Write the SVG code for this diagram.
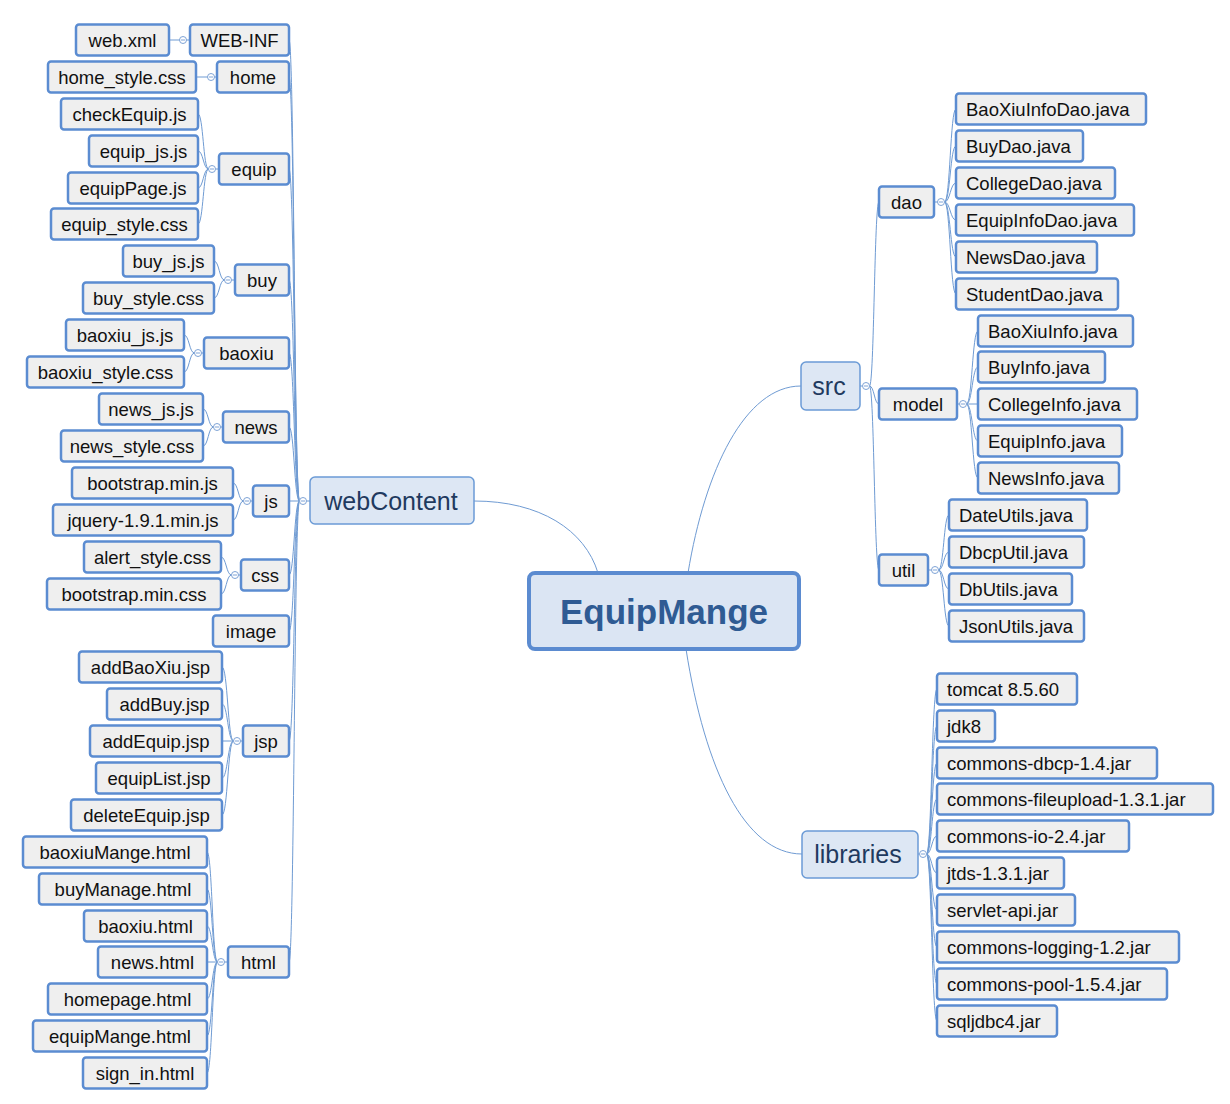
<svg xmlns="http://www.w3.org/2000/svg" width="1230" height="1104" viewBox="0 0 1230 1104">
<style>
.n rect{fill:#efefef;stroke:#5b8cd1;stroke-width:2.5}
.n text{font-family:"Liberation Sans",Arial,sans-serif;font-size:18.5px;fill:#111;text-anchor:middle}
.r text{text-anchor:start}
.l1 rect{fill:#dde7f4;stroke:#6b9bd6;stroke-width:1.5}
.l1 text{font-family:"Liberation Sans",Arial,sans-serif;font-size:25px;fill:#1f3a5f;text-anchor:middle}
.root rect{fill:#dbe5f3;stroke:#5b8bd0;stroke-width:4}
.root text{font-family:"Liberation Sans",Arial,sans-serif;font-size:35px;font-weight:bold;fill:#2f5b93;text-anchor:middle}
#connectors path{fill:none;stroke:#6f9bd3;stroke-width:1}
.tog circle{fill:#fff;stroke:#7ea3d6;stroke-width:1}
.tog path{stroke:#7ea3d6;stroke-width:1}
</style>
<rect width="1230" height="1104" fill="#fff"/>
<g id="connectors">
<path d="M598 573 C585 530 540 501 474 501"/>
<path d="M688 573 C705 470 745 386 801 386"/>
<path d="M686 649 C705 770 745 854 802 854"/>
<path d="M310 501 L306.5 501"/>
<path d="M299.5 501 C294.25 501 294.25 40 289 40"/>
<path d="M299.5 501 C294.25 501 294.25 77 289 77"/>
<path d="M299.5 501 C294.25 501 294.25 169 289 169"/>
<path d="M299.5 501 C294.25 501 294.25 280 289 280"/>
<path d="M299.5 501 C294.25 501 294.25 353 289 353"/>
<path d="M299.5 501 C294.25 501 294.25 427 289 427"/>
<path d="M299.5 501 L289 501"/>
<path d="M299.5 501 C294.25 501 294.25 575 289 575"/>
<path d="M299.5 501 C294.25 501 294.25 631 289 631"/>
<path d="M299.5 501 C294.25 501 294.25 741 289 741"/>
<path d="M299.5 501 C294.25 501 294.25 962 289 962"/>
<path d="M190 40 L169 40"/>
<path d="M217 77 L196 77"/>
<path d="M219 169 L215.5 169"/>
<path d="M208.5 169 C203.25 169 203.25 114 198 114"/>
<path d="M208.5 169 C203.25 169 203.25 151 198 151"/>
<path d="M208.5 169 C203.25 169 203.25 188 198 188"/>
<path d="M208.5 169 C203.25 169 203.25 224 198 224"/>
<path d="M235 280 L231.5 280"/>
<path d="M224.5 280 C219.25 280 219.25 261 214 261"/>
<path d="M224.5 280 C219.25 280 219.25 298 214 298"/>
<path d="M204 353 L201.5 353"/>
<path d="M194.5 353 C189.25 353 189.25 335 184 335"/>
<path d="M194.5 353 C189.25 353 189.25 372 184 372"/>
<path d="M223 427 L220.5 427"/>
<path d="M213.5 427 C208.25 427 208.25 409 203 409"/>
<path d="M213.5 427 C208.25 427 208.25 446 203 446"/>
<path d="M253 501 L250.5 501"/>
<path d="M243.5 501 C238.25 501 238.25 483 233 483"/>
<path d="M243.5 501 C238.25 501 238.25 520 233 520"/>
<path d="M241 575 L238.5 575"/>
<path d="M231.5 575 C226.25 575 226.25 557 221 557"/>
<path d="M231.5 575 C226.25 575 226.25 594 221 594"/>
<path d="M243 741 L240.5 741"/>
<path d="M233.5 741 C227.75 741 227.75 667 222 667"/>
<path d="M233.5 741 C227.75 741 227.75 704 222 704"/>
<path d="M233.5 741 L222 741"/>
<path d="M233.5 741 C227.75 741 227.75 778 222 778"/>
<path d="M233.5 741 C227.75 741 227.75 815 222 815"/>
<path d="M228 962 L224.5 962"/>
<path d="M217.5 962 C212.25 962 212.25 852 207 852"/>
<path d="M217.5 962 C212.25 962 212.25 889 207 889"/>
<path d="M217.5 962 C212.25 962 212.25 926 207 926"/>
<path d="M217.5 962 L207 962"/>
<path d="M217.5 962 C212.25 962 212.25 999 207 999"/>
<path d="M217.5 962 C212.25 962 212.25 1036 207 1036"/>
<path d="M217.5 962 C212.25 962 212.25 1073 207 1073"/>
<path d="M860 386 L862.5 386"/>
<path d="M869.5 386 C874.25 386 874.25 202 879 202"/>
<path d="M869.5 386 C874.25 386 874.25 404 879 404"/>
<path d="M869.5 386 C874.25 386 874.25 570 879 570"/>
<path d="M934 202 L937.5 202"/>
<path d="M944.5 202 C950.25 202 950.25 109 956 109"/>
<path d="M944.5 202 C950.25 202 950.25 146 956 146"/>
<path d="M944.5 202 C950.25 202 950.25 183 956 183"/>
<path d="M944.5 202 C950.25 202 950.25 220 956 220"/>
<path d="M944.5 202 C950.25 202 950.25 257 956 257"/>
<path d="M944.5 202 C950.25 202 950.25 294 956 294"/>
<path d="M957 404 L959.5 404"/>
<path d="M966.5 404 C972.25 404 972.25 331 978 331"/>
<path d="M966.5 404 C972.25 404 972.25 367 978 367"/>
<path d="M966.5 404 L978 404"/>
<path d="M966.5 404 C972.25 404 972.25 441 978 441"/>
<path d="M966.5 404 C972.25 404 972.25 478 978 478"/>
<path d="M928 570 L931.5 570"/>
<path d="M938.5 570 C943.75 570 943.75 515 949 515"/>
<path d="M938.5 570 C943.75 570 943.75 552 949 552"/>
<path d="M938.5 570 C943.75 570 943.75 589 949 589"/>
<path d="M938.5 570 C943.75 570 943.75 626 949 626"/>
<path d="M918 854 L919.5 854"/>
<path d="M926.5 854 C931.75 854 931.75 689 937 689"/>
<path d="M926.5 854 C931.75 854 931.75 726 937 726"/>
<path d="M926.5 854 C931.75 854 931.75 763 937 763"/>
<path d="M926.5 854 C931.75 854 931.75 799 937 799"/>
<path d="M926.5 854 C931.75 854 931.75 836 937 836"/>
<path d="M926.5 854 C931.75 854 931.75 873 937 873"/>
<path d="M926.5 854 C931.75 854 931.75 910 937 910"/>
<path d="M926.5 854 C931.75 854 931.75 947 937 947"/>
<path d="M926.5 854 C931.75 854 931.75 984 937 984"/>
<path d="M926.5 854 C931.75 854 931.75 1021 937 1021"/>
</g>

<g id="root" class="root"><rect x="529" y="573" width="270" height="76" rx="6"/><text x="664" y="624">EquipMange</text></g>

<g id="webContent" class="l1"><rect x="310" y="477" width="164" height="47" rx="5"/><text x="391" y="510">webContent</text></g>
<g id="src" class="l1"><rect x="801" y="362" width="59" height="48" rx="5"/><text x="829" y="395">src</text></g>
<g id="libraries" class="l1"><rect x="802" y="831" width="116" height="47" rx="5"/><text x="858" y="863">libraries</text></g>

<g id="WEB-INF" class="n"><rect x="190" y="24.5" width="99" height="31" rx="3"/><text x="239.5" y="46.5">WEB-INF</text></g>
<g id="web.xml" class="n"><rect x="76" y="24.5" width="93" height="31" rx="3"/><text x="122.5" y="46.5">web.xml</text></g>
<g id="home" class="n"><rect x="217" y="61.5" width="72" height="31" rx="3"/><text x="253" y="83.5">home</text></g>
<g id="home_style.css" class="n"><rect x="48" y="61.5" width="148" height="31" rx="3"/><text x="122" y="83.5">home_style.css</text></g>
<g id="equip" class="n"><rect x="219" y="153.5" width="70" height="31" rx="3"/><text x="254" y="175.5">equip</text></g>
<g id="checkEquip.js" class="n"><rect x="61" y="98.5" width="137" height="31" rx="3"/><text x="129.5" y="120.5">checkEquip.js</text></g>
<g id="equip_js.js" class="n"><rect x="89" y="135.5" width="109" height="31" rx="3"/><text x="143.5" y="157.5">equip_js.js</text></g>
<g id="equipPage.js" class="n"><rect x="68" y="172.5" width="130" height="31" rx="3"/><text x="133" y="194.5">equipPage.js</text></g>
<g id="equip_style.css" class="n"><rect x="51" y="208.5" width="147" height="31" rx="3"/><text x="124.5" y="230.5">equip_style.css</text></g>
<g id="buy" class="n"><rect x="235" y="264.5" width="54" height="31" rx="3"/><text x="262" y="286.5">buy</text></g>
<g id="buy_js.js" class="n"><rect x="123" y="245.5" width="91" height="31" rx="3"/><text x="168.5" y="267.5">buy_js.js</text></g>
<g id="buy_style.css" class="n"><rect x="83" y="282.5" width="131" height="31" rx="3"/><text x="148.5" y="304.5">buy_style.css</text></g>
<g id="baoxiu" class="n"><rect x="204" y="337.5" width="85" height="31" rx="3"/><text x="246.5" y="359.5">baoxiu</text></g>
<g id="baoxiu_js.js" class="n"><rect x="66" y="319.5" width="118" height="31" rx="3"/><text x="125" y="341.5">baoxiu_js.js</text></g>
<g id="baoxiu_style.css" class="n"><rect x="27" y="356.5" width="157" height="31" rx="3"/><text x="105.5" y="378.5">baoxiu_style.css</text></g>
<g id="news" class="n"><rect x="223" y="411.5" width="66" height="31" rx="3"/><text x="256" y="433.5">news</text></g>
<g id="news_js.js" class="n"><rect x="99" y="393.5" width="104" height="31" rx="3"/><text x="151" y="415.5">news_js.js</text></g>
<g id="news_style.css" class="n"><rect x="61" y="430.5" width="142" height="31" rx="3"/><text x="132" y="452.5">news_style.css</text></g>
<g id="js" class="n"><rect x="253" y="485.5" width="36" height="31" rx="3"/><text x="271" y="507.5">js</text></g>
<g id="bootstrap.min.js" class="n"><rect x="72" y="467.5" width="161" height="31" rx="3"/><text x="152.5" y="489.5">bootstrap.min.js</text></g>
<g id="jquery-1.9.1.min.js" class="n"><rect x="53" y="504.5" width="180" height="31" rx="3"/><text x="143" y="526.5">jquery-1.9.1.min.js</text></g>
<g id="css" class="n"><rect x="241" y="559.5" width="48" height="31" rx="3"/><text x="265" y="581.5">css</text></g>
<g id="alert_style.css" class="n"><rect x="84" y="541.5" width="137" height="31" rx="3"/><text x="152.5" y="563.5">alert_style.css</text></g>
<g id="bootstrap.min.css" class="n"><rect x="47" y="578.5" width="174" height="31" rx="3"/><text x="134" y="600.5">bootstrap.min.css</text></g>
<g id="image" class="n"><rect x="213" y="615.5" width="76" height="31" rx="3"/><text x="251" y="637.5">image</text></g>
<g id="jsp" class="n"><rect x="243" y="725.5" width="46" height="31" rx="3"/><text x="266" y="747.5">jsp</text></g>
<g id="addBaoXiu.jsp" class="n"><rect x="79" y="651.5" width="143" height="31" rx="3"/><text x="150.5" y="673.5">addBaoXiu.jsp</text></g>
<g id="addBuy.jsp" class="n"><rect x="107" y="688.5" width="115" height="31" rx="3"/><text x="164.5" y="710.5">addBuy.jsp</text></g>
<g id="addEquip.jsp" class="n"><rect x="90" y="725.5" width="132" height="31" rx="3"/><text x="156" y="747.5">addEquip.jsp</text></g>
<g id="equipList.jsp" class="n"><rect x="96" y="762.5" width="126" height="31" rx="3"/><text x="159" y="784.5">equipList.jsp</text></g>
<g id="deleteEquip.jsp" class="n"><rect x="71" y="799.5" width="151" height="31" rx="3"/><text x="146.5" y="821.5">deleteEquip.jsp</text></g>
<g id="html" class="n"><rect x="228" y="946.5" width="61" height="31" rx="3"/><text x="258.5" y="968.5">html</text></g>
<g id="baoxiuMange.html" class="n"><rect x="23" y="836.5" width="184" height="31" rx="3"/><text x="115" y="858.5">baoxiuMange.html</text></g>
<g id="buyManage.html" class="n"><rect x="39" y="873.5" width="168" height="31" rx="3"/><text x="123" y="895.5">buyManage.html</text></g>
<g id="baoxiu.html" class="n"><rect x="84" y="910.5" width="123" height="31" rx="3"/><text x="145.5" y="932.5">baoxiu.html</text></g>
<g id="news.html" class="n"><rect x="98" y="946.5" width="109" height="31" rx="3"/><text x="152.5" y="968.5">news.html</text></g>
<g id="homepage.html" class="n"><rect x="48" y="983.5" width="159" height="31" rx="3"/><text x="127.5" y="1005.5">homepage.html</text></g>
<g id="equipMange.html" class="n"><rect x="33" y="1020.5" width="174" height="31" rx="3"/><text x="120" y="1042.5">equipMange.html</text></g>
<g id="sign_in.html" class="n"><rect x="83" y="1057.5" width="124" height="31" rx="3"/><text x="145" y="1079.5">sign_in.html</text></g>

<g id="dao" class="n"><rect x="879" y="186.5" width="55" height="31" rx="3"/><text x="906.5" y="208.5">dao</text></g>
<g id="BaoXiuInfoDao.java" class="n r"><rect x="956" y="93.5" width="190" height="31" rx="3"/><text x="966" y="115.5">BaoXiuInfoDao.java</text></g>
<g id="BuyDao.java" class="n r"><rect x="956" y="130.5" width="127" height="31" rx="3"/><text x="966" y="152.5">BuyDao.java</text></g>
<g id="CollegeDao.java" class="n r"><rect x="956" y="167.5" width="159" height="31" rx="3"/><text x="966" y="189.5">CollegeDao.java</text></g>
<g id="EquipInfoDao.java" class="n r"><rect x="956" y="204.5" width="178" height="31" rx="3"/><text x="966" y="226.5">EquipInfoDao.java</text></g>
<g id="NewsDao.java" class="n r"><rect x="956" y="241.5" width="141" height="31" rx="3"/><text x="966" y="263.5">NewsDao.java</text></g>
<g id="StudentDao.java" class="n r"><rect x="956" y="278.5" width="162" height="31" rx="3"/><text x="966" y="300.5">StudentDao.java</text></g>
<g id="model" class="n"><rect x="879" y="388.5" width="78" height="31" rx="3"/><text x="918" y="410.5">model</text></g>
<g id="BaoXiuInfo.java" class="n r"><rect x="978" y="315.5" width="155" height="31" rx="3"/><text x="988" y="337.5">BaoXiuInfo.java</text></g>
<g id="BuyInfo.java" class="n r"><rect x="978" y="351.5" width="127" height="31" rx="3"/><text x="988" y="373.5">BuyInfo.java</text></g>
<g id="CollegeInfo.java" class="n r"><rect x="978" y="388.5" width="159" height="31" rx="3"/><text x="988" y="410.5">CollegeInfo.java</text></g>
<g id="EquipInfo.java" class="n r"><rect x="978" y="425.5" width="144" height="31" rx="3"/><text x="988" y="447.5">EquipInfo.java</text></g>
<g id="NewsInfo.java" class="n r"><rect x="978" y="462.5" width="141" height="31" rx="3"/><text x="988" y="484.5">NewsInfo.java</text></g>
<g id="util" class="n"><rect x="879" y="554.5" width="49" height="31" rx="3"/><text x="903.5" y="576.5">util</text></g>
<g id="DateUtils.java" class="n r"><rect x="949" y="499.5" width="138" height="31" rx="3"/><text x="959" y="521.5">DateUtils.java</text></g>
<g id="DbcpUtil.java" class="n r"><rect x="949" y="536.5" width="135" height="31" rx="3"/><text x="959" y="558.5">DbcpUtil.java</text></g>
<g id="DbUtils.java" class="n r"><rect x="949" y="573.5" width="123" height="31" rx="3"/><text x="959" y="595.5">DbUtils.java</text></g>
<g id="JsonUtils.java" class="n r"><rect x="949" y="610.5" width="135" height="31" rx="3"/><text x="959" y="632.5">JsonUtils.java</text></g>
<g id="tomcat" class="n r"><rect x="937" y="673.5" width="140" height="31" rx="3"/><text x="947" y="695.5">tomcat 8.5.60</text></g>
<g id="jdk8" class="n r"><rect x="937" y="710.5" width="58" height="31" rx="3"/><text x="947" y="732.5">jdk8</text></g>
<g id="commons-dbcp" class="n r"><rect x="937" y="747.5" width="220" height="31" rx="3"/><text x="947" y="769.5">commons-dbcp-1.4.jar</text></g>
<g id="commons-fileupload" class="n r"><rect x="937" y="783.5" width="276" height="31" rx="3"/><text x="947" y="805.5">commons-fileupload-1.3.1.jar</text></g>
<g id="commons-io" class="n r"><rect x="937" y="820.5" width="192" height="31" rx="3"/><text x="947" y="842.5">commons-io-2.4.jar</text></g>
<g id="jtds" class="n r"><rect x="937" y="857.5" width="127" height="31" rx="3"/><text x="947" y="879.5">jtds-1.3.1.jar</text></g>
<g id="servlet-api" class="n r"><rect x="937" y="894.5" width="138" height="31" rx="3"/><text x="947" y="916.5">servlet-api.jar</text></g>
<g id="commons-logging" class="n r"><rect x="937" y="931.5" width="242" height="31" rx="3"/><text x="947" y="953.5">commons-logging-1.2.jar</text></g>
<g id="commons-pool" class="n r"><rect x="937" y="968.5" width="230" height="31" rx="3"/><text x="947" y="990.5">commons-pool-1.5.4.jar</text></g>
<g id="sqljdbc4" class="n r"><rect x="937" y="1005.5" width="120" height="31" rx="3"/><text x="947" y="1027.5">sqljdbc4.jar</text></g>

<g id="toggles" class="tog">
<circle cx="183" cy="40" r="3.5"/><path d="M181 40 H185"/>
<circle cx="211" cy="77" r="3.5"/><path d="M209 77 H213"/>
<circle cx="212" cy="169" r="3.5"/><path d="M210 169 H214"/>
<circle cx="228" cy="280" r="3.5"/><path d="M226 280 H230"/>
<circle cx="198" cy="353" r="3.5"/><path d="M196 353 H200"/>
<circle cx="217" cy="427" r="3.5"/><path d="M215 427 H219"/>
<circle cx="247" cy="501" r="3.5"/><path d="M245 501 H249"/>
<circle cx="303" cy="501" r="3.5"/><path d="M301 501 H305"/>
<circle cx="235" cy="575" r="3.5"/><path d="M233 575 H237"/>
<circle cx="237" cy="741" r="3.5"/><path d="M235 741 H239"/>
<circle cx="221" cy="962" r="3.5"/><path d="M219 962 H223"/>
<circle cx="866" cy="386" r="3.5"/><path d="M864 386 H868"/>
<circle cx="941" cy="202" r="3.5"/><path d="M939 202 H943"/>
<circle cx="963" cy="404" r="3.5"/><path d="M961 404 H965"/>
<circle cx="935" cy="570" r="3.5"/><path d="M933 570 H937"/>
<circle cx="923" cy="854" r="3.5"/><path d="M921 854 H925"/>
</g>
</svg>
